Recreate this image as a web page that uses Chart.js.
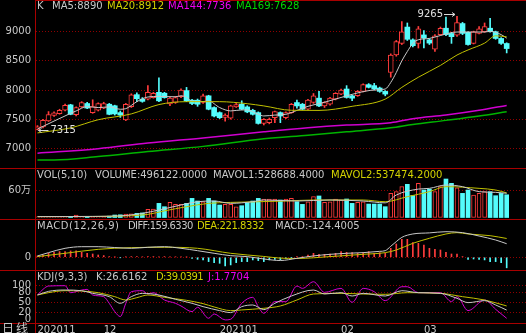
<!DOCTYPE html>
<html>
<head>
<meta charset="utf-8">
<script src="https://cdn.jsdelivr.net/npm/chart.js@4.4.1/dist/chart.umd.min.js"></script>
<style>
body{margin:0;background:#000;}
#wrap{position:relative;width:526px;height:333px;background:#000;overflow:hidden;font:10px "DejaVu Sans","Noto Sans CJK SC",sans-serif;}
canvas{position:absolute;left:0;}
.t{position:absolute;white-space:pre;line-height:12px;color:#c8c8c8;}
.y{color:#d2d200;} .m{color:#f000f0;} .g{color:#00d800;}
.hl{position:absolute;left:0;width:526px;height:1px;background:#a80000;}
</style>
</head>
<body>
<div id="wrap">
<canvas id="kline" width="526" height="168" style="top:0"></canvas>
<canvas id="vol" width="526" height="50" style="top:169px"></canvas>
<canvas id="macd" width="526" height="50" style="top:220px"></canvas>
<canvas id="kdj" width="526" height="62" style="top:271px"></canvas>

<div class="hl" style="top:0;left:36px"></div>
<div class="hl" style="top:168px"></div>
<div class="hl" style="top:219px"></div>
<div class="hl" style="top:270px"></div>
<div class="hl" style="top:323px"></div>
<div style="position:absolute;left:35px;top:0;width:1px;height:333px;background:#a80000"></div>

<div class="t" style="left:37px;top:0">K</div>
<div class="t" style="left:52px;top:0">MA5:8890</div>
<div class="t y" style="left:107px;top:0">MA20:8912</div>
<div class="t m" style="left:168px;top:0">MA144:7736</div>
<div class="t g" style="left:236px;top:0">MA169:7628</div>

<div class="t" style="left:37px;top:169px">VOL(5,10)</div>
<div class="t" style="left:95px;top:169px">VOLUME:496122.0000</div>
<div class="t" style="left:213px;top:169px">MAVOL1:528688.4000</div>
<div class="t y" style="left:331px;top:169px">MAVOL2:537474.2000</div>

<div class="t" style="left:37px;top:220px;letter-spacing:0.5px">MACD(12,26,9)</div>
<div class="t" style="left:128px;top:220px;letter-spacing:-0.6px">DIFF:159.6330</div>
<div class="t y" style="left:197px;top:220px;letter-spacing:-0.4px">DEA:221.8332</div>
<div class="t" style="left:275px;top:220px">MACD:-124.4005</div>

<div class="t" style="left:37px;top:271px">KDJ(9,3,3)</div>
<div class="t" style="left:96px;top:271px">K:26.6162</div>
<div class="t y" style="left:156px;top:271px;letter-spacing:-0.6px">D:39.0391</div>
<div class="t m" style="left:208px;top:271px">J:1.7704</div>

<div class="t" style="left:2px;top:322px;font-size:12px;letter-spacing:2px;font-family:'Noto Sans CJK SC'">日线</div>
</div>

<script>
// month labels on the time axis (candle index -> text)
const xTicks = [0, 12, 33, 55, 70];
const xTickText = ['202011', '12', '202101', '02', '03'];

// daily candles
const open = [7325,7365,7470,7565,7595,7652,7745,7575,7710,7768,7612,7652,7690,7756,7730,7612,7485,7716,7920,7843,
  7843,7870,7960,7945,7760,7785,7884,7990,7825,7825,7785,7900,7699,7612,7530,7515,7710,7756,7710,7652,
  7612,7425,7440,7525,7612,7525,7612,7785,7756,7670,7785,7860,7727,7756,7843,7930,8017,7901,7901,7976,
  8092,8075,8034,7976,8300,8600,8800,9080,8860,8800,8945,8860,8700,8950,9060,8970,8940,9140,8990,8800,
  8970,9000,9060,9000,8884,8798];
const high = [7390,7495,7630,7625,7670,7760,7755,7710,7800,7790,7832,7780,7790,7770,7740,7640,7770,7935,7950,7870,
  8075,7960,8208,7960,7875,7890,8020,8045,7840,7845,7930,7910,7710,7625,7590,7740,7770,7815,7730,7670,
  7625,7510,7520,7640,7625,7625,7770,7826,7770,7840,7940,7976,7800,7875,7955,8015,8075,7910,7990,8105,
  8110,8115,8050,7990,8620,8850,9174,9150,8880,9090,9020,8880,8950,9080,9250,8990,9265,9160,9000,9010,
  9090,9150,9230,9010,8900,8810];
const low = [7315,7350,7460,7545,7585,7640,7575,7555,7700,7680,7600,7640,7680,7575,7570,7530,7475,7700,7800,7790,
  7830,7860,7800,7860,7730,7770,7870,7800,7750,7720,7770,7660,7540,7510,7465,7500,7700,7660,7610,7570,
  7415,7400,7420,7440,7440,7510,7600,7687,7660,7660,7770,7715,7700,7740,7830,7920,7860,7815,7890,7965,
  8035,8000,7960,7900,8220,8580,8780,8850,8740,8720,8720,8780,8660,8940,8930,8800,8920,8950,8770,8790,
  8960,8990,8990,8870,8780,8636];
const close = [7368,7478,7580,7610,7650,7735,7583,7699,7785,7690,7716,7768,7768,7583,7590,7570,7756,7918,7850,7805,
  7960,7945,7814,7870,7860,7872,8000,7814,7768,7756,7900,7670,7554,7525,7570,7728,7750,7670,7624,7583,
  7427,7495,7495,7629,7554,7612,7756,7727,7670,7826,7900,7727,7785,7860,7941,7999,7872,7860,7976,8092,
  8046,8017,7976,7930,8600,8830,9000,8870,8760,9050,8890,8805,8930,9060,8950,8915,9156,8971,8780,9000,
  9050,9090,9000,8884,8800,8711];

// price averages: [candle index, value]
const ma5 = [[0,7330],[3,7467],[6,7600],[7,7641],[9,7716],[11,7699],[13,7710],[15,7670],[16,7680],[18,7800],
  [20,7880],[22,7890],[25,7884],[26,7901],[27,7875],[28,7810],[30,7802],[31,7810],[33,7699],[35,7641],
  [37,7658],[38,7658],[40,7583],[41,7555],[43,7570],[45,7583],[47,7650],[49,7720],[52,7790],[55,7872],
  [58,7950],[61,8000],[63,8017],[64,8130],[65,8300],[66,8500],[67,8660],[68,8800],[69,8862],[71,8885],
  [73,8935],[76,8995],[78,8995],[81,8995],[82,9006],[84,8950],[85,8890]];
const ma20 = [[0,7264],[6,7350],[11,7490],[17,7590],[22,7750],[27,7800],[33,7800],[38,7765],[41,7727],[46,7652],
  [51,7650],[57,7720],[63,7844],[66,8045],[69,8219],[73,8422],[76,8600],[78,8687],[81,8804],[83,8930],[85,8912]];
const ma144 = [[0,6917],[11,6993],[20,7091],[30,7178],[41,7282],[49,7351],[56,7398],[64,7438],[68,7508],[74,7571],[80,7652],[85,7736]];
const ma169 = [[0,6801],[3,6801],[11,6859],[20,6946],[30,7033],[41,7163],[49,7224],[56,7282],[64,7351],[68,7409],[74,7479],[80,7554],[85,7628]];

// volume
const volume = [15000,15000,20000,15000,20000,20000,25000,55000,20000,20000,25000,20000,25000,30000,55000,60000,76000,80000,91000,100000,
  178000,185000,309000,236000,330000,287000,287000,309000,418000,360000,345000,418000,360000,273000,287000,287000,236000,258000,330000,360000,
  418000,404000,400000,404000,382000,404000,418000,345000,287000,345000,455000,470000,330000,345000,404000,382000,404000,309000,330000,345000,
  294000,294000,294000,236000,527000,564000,673000,724000,480000,746000,600000,620000,564000,673000,840000,746000,650000,527000,600000,491000,
  527000,564000,564000,476000,527000,496122];
const mavol1 = [[0,20000],[10,25000],[16,45000],[19,91000],[22,164000],[26,273000],[29,345000],[32,360000],[35,309000],[39,345000],
  [41,382000],[47,360000],[53,382000],[59,360000],[63,320000],[65,491000],[69,620000],[71,636000],[74,709000],[77,673000],[80,564000],[83,549000],[85,528688]];
const mavol2 = [[0,20000],[10,22000],[17,40000],[20,69000],[23,145000],[27,236000],[31,309000],[35,330000],[40,345000],[45,360000],
  [50,382000],[59,382000],[63,345000],[67,455000],[71,564000],[74,673000],[80,636000],[83,600000],[85,537474]];

// MACD
const macdBar = [16,27,47,59,67,67,75,75,59,47,39,27,20,8,2,-4,4,8,8,5,
  8,8,5,8,5,5,3,2,-12,-24,-31,-51,-63,-71,-102,-90,-63,-51,-51,-31,
  -39,-51,-31,-24,-31,-12,-3,8,8,27,47,35,35,39,47,67,59,55,47,55,
  67,47,55,47,106,157,212,212,173,165,145,106,94,86,59,39,39,8,-24,-20,
  -24,-31,-51,-51,-63,-124.4];
const diff = [[0,16],[2,55],[5,106],[8,125],[11,125],[14,115],[17,106],[20,118],[23,125],[26,106],[29,78],[32,47],[35,19],[38,8],
  [41,-20],[44,-38],[47,-12],[50,16],[53,35],[56,47],[59,55],[62,70],[63,78],[64,130],[65,185],[66,235],[68,275],[71,288],[74,302],
  [77,291],[80,251],[83,204],[85,160]];
const dea = [[0,8],[5,47],[11,94],[17,114],[23,118],[29,106],[35,47],[41,10],[44,-10],[47,-14],[53,8],[59,35],[63,55],[65,86],
  [68,165],[71,224],[74,275],[76,291],[78,275],[82,255],[85,222]];

// KDJ
const kLine = [[0,72],[2,83],[5,87],[8,85],[10,77],[13,67],[15,47],[17,67],[19,77],[22,72],[25,59],[28,47],[30,37],[33,25],[35,19],
  [37,37],[39,42],[41,28],[43,47],[46,69],[50,87],[52,75],[55,79],[57,69],[59,77],[63,69],[66,85],[69,79],[73,77],[76,62],[78,49],
  [81,55],[83,42],[85,26.6]];
const dLine = [[0,72],[2,79],[5,85],[8,84],[11,79],[14,67],[16,57],[18,64],[20,72],[23,65],[27,56],[30,46],[32,36],[35,25],[37,27],
  [41,32],[44,39],[47,57],[50,75],[55,77],[59,75],[63,74],[67,79],[73,77],[77,67],[81,57],[85,39.04]];
const jLine = [[0,72],[1,89],[2,99],[5,100],[6,79],[8,87],[9,89],[10,72],[12,67],[13,47],[14,22],[15,7],[16,47],[17,82],[19,85],
  [20,75],[21,79],[23,57],[25,47],[26,39],[28,22],[29,35],[31,2],[32,15],[34,-3],[35,-1],[37,47],[39,65],[40,37],[41,17],
  [43,52],[45,52],[47,99],[48,92],[50,112],[52,80],[55,92],[57,50],[59,92],[61,82],[63,55],[66,97],[67,97],[69,79],[73,79],
  [75,52],[76,67],[78,25],[81,57],[83,29],[85,1.77]];

const RED = '#ff3c3c', CYAN = '#54fcfc', GREY = '#c8c8c8', YEL = '#c0c000', MAG = '#d000d0', GRN = '#00b400', GRID = '#900000';
const FONT = {family: '"DejaVu Sans", "Noto Sans CJK SC", sans-serif', size: 10};

const idx = close.map((c, i) => i);
const isUp = i => close[i] >= open[i];
const pts = a => a.map(p => ({x: p[0], y: p[1]}));

function xAxis(show) {
  return {
    type: 'linear', min: -0.27, max: 88.5, offset: false, display: show,
    afterFit: s => { if (show) s.height = 10; s.paddingLeft = 0; s.paddingRight = 0; },
    afterBuildTicks: s => { s.ticks = xTicks.map(v => ({value: v})); },
    ticks: {color: GREY, font: FONT, align: 'start', padding: 1, maxRotation: 0, autoSkip: false,
      callback: v => xTickText[xTicks.indexOf(v)]},
    grid: {display: false, drawTicks: false},
    border: {display: false}
  };
}

function yAxis(min, max, ticks, label, hideZero) {
  return {
    min: min, max: max, position: 'left',
    afterFit: s => { s.width = 36; s.paddingTop = 0; s.paddingBottom = 0; },
    afterBuildTicks: s => { s.ticks = ticks.map(v => ({value: v})); },
    ticks: {color: GREY, font: FONT, padding: 5, autoSkip: false, callback: label},
    grid: {drawTicks: false, color: c => (hideZero && c.tick && c.tick.value === 0) ? 'rgba(0,0,0,0)' : GRID},
    border: {display: false, dash: [1, 2]}
  };
}

function line(data, color, width) {
  return {type: 'line', data: pts(data), borderColor: color, borderWidth: width || 1,
    pointRadius: 0, cubicInterpolationMode: 'monotone', order: 0};
}

function makeChart(id, datasets, y, showX, plugins) {
  return new Chart(document.getElementById(id), {
    type: 'bar',
    data: {datasets: datasets},
    options: {
      responsive: false, animation: false, events: [],
      layout: {padding: 0},
      plugins: {legend: {display: false}, tooltip: {enabled: false}},
      scales: {x: xAxis(showX), y: y}
    },
    plugins: plugins || []
  });
}

// high / low markers on the price panel
const marks = {
  id: 'marks',
  afterDatasetsDraw(chart) {
    const {ctx, scales: {x, y}} = chart;
    const hi = Math.max(...high), hiI = high.indexOf(hi);
    const lo = Math.min(...low), loI = low.indexOf(lo);
    ctx.save();
    ctx.strokeStyle = '#d8d8d8';
    ctx.fillStyle = '#e0e0e0';
    ctx.lineWidth = 1;
    ctx.font = '10px "DejaVu Sans"';
    ctx.textBaseline = 'middle';
    let px = x.getPixelForValue(hiI), py = Math.round(y.getPixelForValue(hi)) - 1.5;
    ctx.textAlign = 'right';
    ctx.fillText(String(hi), px - 14, py);
    ctx.beginPath();
    ctx.moveTo(px - 13, py); ctx.lineTo(px - 2, py);
    ctx.moveTo(px - 5, py - 2); ctx.lineTo(px - 2, py); ctx.lineTo(px - 5, py + 2);
    ctx.stroke();
    px = x.getPixelForValue(loI); py = Math.round(y.getPixelForValue(lo)) + 0.5;
    ctx.textAlign = 'left';
    ctx.fillText(String(lo), px + 13, py);
    ctx.beginPath();
    ctx.moveTo(px + 11, py); ctx.lineTo(px + 1, py);
    ctx.moveTo(px + 4, py - 2); ctx.lineTo(px + 1, py); ctx.lineTo(px + 4, py + 2);
    ctx.stroke();
    ctx.restore();
  }
};

makeChart('kline', [
  {data: idx.map(i => ({x: i, y: [low[i], high[i]]})), backgroundColor: idx.map(i => isUp(i) ? RED : CYAN),
    barThickness: 1, grouped: false, order: 3},
  {data: idx.filter(isUp).map(i => ({x: i, y: [open[i], close[i]]})), backgroundColor: '#000', borderColor: RED,
    borderWidth: 1, borderSkipped: false, barThickness: 5, grouped: false, order: 2},
  {data: idx.filter(i => !isUp(i)).map(i => ({x: i, y: [close[i], open[i]]})), backgroundColor: CYAN,
    borderWidth: 0, barThickness: 5, grouped: false, order: 2},
  line(ma169, GRN, 1.5),
  line(ma144, MAG, 1.5),
  line(ma20, YEL, 1),
  line(ma5, GREY, 1)
], yAxis(6662, 9544, [7000, 7500, 8000, 8500, 9000], v => String(v)), false, [marks]);

makeChart('vol', [
  {data: idx.filter(isUp).map(i => ({x: i, y: volume[i]})), backgroundColor: '#000', borderColor: RED,
    borderWidth: 1, borderSkipped: false, barThickness: 4, grouped: false, order: 2},
  {data: idx.filter(i => !isUp(i)).map(i => ({x: i, y: volume[i]})), backgroundColor: CYAN,
    borderWidth: 0, barThickness: 4, grouped: false, order: 2},
  line(mavol1, GREY, 1),
  line(mavol2, YEL, 1)
], yAxis(-32000, 1058000, [600000], () => '60万'), false);

makeChart('macd', [
  {data: idx.map(i => ({x: i, y: macdBar[i]})), backgroundColor: idx.map(i => macdBar[i] >= 0 ? RED : CYAN),
    barThickness: 1, grouped: false, order: 2},
  line(diff, GREY, 1),
  line(dea, YEL, 1)
], yAxis(-150, 440, [0], () => '0'), false);

makeChart('kdj', [
  line(kLine, GREY, 1),
  line(dLine, YEL, 1),
  line(jLine, MAG, 1)
], yAxis(-12.3, 144.3, [0, 20, 50, 80, 100], v => String(v), true), true);
</script>
</body>
</html>
